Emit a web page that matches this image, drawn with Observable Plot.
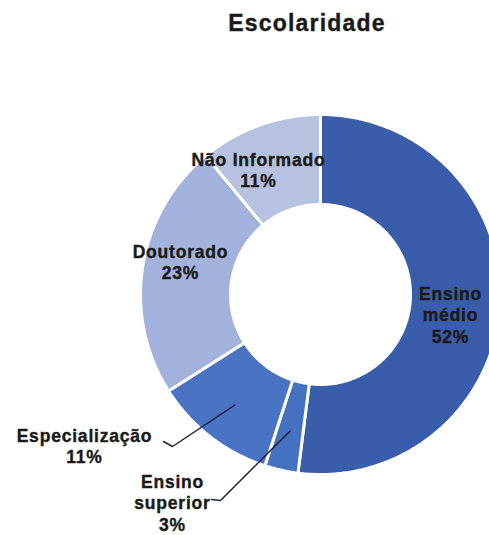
<!DOCTYPE html>
<html>
<head>
<meta charset="utf-8">
<script src="https://cdn.jsdelivr.net/npm/d3@7"></script>
<script src="https://cdn.jsdelivr.net/npm/@observablehq/plot@0.6"></script>
<style>
  html, body { margin: 0; padding: 0; background: #fff; overflow: hidden; width: 489px; height: 535px; }
  #title { margin-left: 125px; width: 364px; height: 44px; text-align: center; font: bold 23px "Liberation Sans", Arial, sans-serif; letter-spacing: 1.2px; color: #1a1a1a; line-height: 46px; box-sizing: border-box; -webkit-text-stroke: 0.4px #1a1a1a; }
  #chart svg text { letter-spacing: 0.8px; }
</style>
</head>
<body>
<div id="title">Escolaridade</div>
<div id="chart"></div>
<script>
// ---- data ----
const categories = ["Ensino médio", "Ensino superior", "Especialização", "Doutorado", "Não Informado"];
const values = [52, 3, 11, 23, 11];
const labelText = ["Ensino\nmédio", "Ensino\nsuperior", "Especialização", "Doutorado", "Não Informado"];
const colors = ["#3a5dab", "#4571c1", "#4a73c3", "#a3b2dc", "#b7c2e1"];

// ---- layout (pixel offsets from the donut centre) ----
const labelOffset = [[130, 20], [-148, 208], [-236, 151], [-140, -33], [-62, -125]];
const leaderStart = [null, [[-109, 205], [-100, 206]], [[-157, 147], [-148, 152]], null, null];
const outerR = 180, innerR = 90, anchorR = 140;

// ---- geometry from the pie ----
const pie = d3.pie().sort(null).value(d => d)(values);
const pt = (a, r) => [r * Math.sin(a), -r * Math.cos(a)];

const slicePts = [];
pie.forEach((p, i) => {
  const n = Math.max(4, Math.ceil((p.endAngle - p.startAngle) / (Math.PI / 180)));
  const ring = [];
  for (let k = 0; k <= n; k++) ring.push(pt(p.startAngle + (p.endAngle - p.startAngle) * k / n, outerR));
  for (let k = n; k >= 0; k--) ring.push(pt(p.startAngle + (p.endAngle - p.startAngle) * k / n, innerR));
  ring.push(ring[0]);
  ring.forEach(([x, y]) => slicePts.push({cat: categories[i], x, y}));
});

const labels = categories.map((c, i) => ({
  cat: c,
  text: labelText[i] + "\n" + values[i] + "%",
  x: labelOffset[i][0],
  y: labelOffset[i][1]
}));

const leaders = [];
pie.forEach((p, i) => {
  if (!leaderStart[i]) return;
  const mid = (p.startAngle + p.endAngle) / 2;
  const a = pt(mid, anchorR);
  leaderStart[i].forEach(([x, y]) => leaders.push({cat: categories[i], x, y}));
  leaders.push({cat: categories[i], x: a[0], y: a[1]});
});

const chart = Plot.plot({
  width: 489,
  height: 491,
  margin: 0,
  x: {domain: [-320, 169], range: [0, 489], axis: null},
  y: {domain: [-250, 241], range: [0, 491], axis: null},
  color: {domain: categories, range: colors},
  style: {fontFamily: "'Liberation Sans', Arial, sans-serif", background: "white", overflow: "hidden"},
  marks: [
    Plot.line(slicePts, {x: "x", y: "y", z: "cat", fill: "cat", stroke: "white", strokeWidth: 3, strokeLinejoin: "miter"}),
    Plot.line(leaders, {x: "x", y: "y", z: "cat", stroke: "#1c2540", strokeWidth: 1.5, curve: "linear"}),
    Plot.text(labels, {x: "x", y: "y", text: "text", fontSize: 17.5, fontWeight: "bold", fill: "#1a1a1a", stroke: "#1a1a1a", strokeWidth: 0.4, lineHeight: 1.22, lineAnchor: "middle", textAnchor: "middle"})
  ]
});
document.getElementById("chart").appendChild(chart);
</script>
</body>
</html>
